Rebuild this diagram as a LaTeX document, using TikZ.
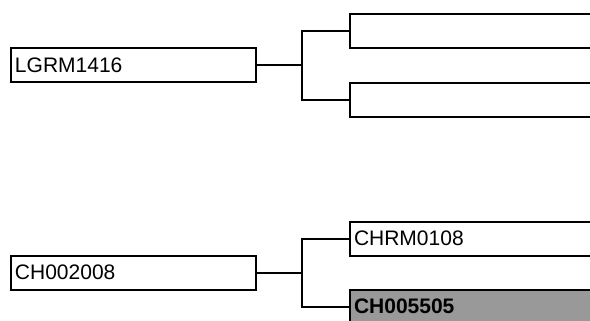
\documentclass[tikz,border=0pt]{standalone}
\usepackage{fontspec}
\setmainfont{Liberation Sans}
\definecolor{boxgray}{RGB}{153,153,153}
\begin{document}
\begin{tikzpicture}[x=1pt,y=-1pt,
  bx/.style={draw=black,line width=2pt,rectangle,inner xsep=4pt,inner ysep=0pt,
    text width=#1,align=left,minimum height=34pt,anchor=west,
    font=\fontsize{21}{24}\selectfont},
  bx/.default=237pt,
  link/.style={draw=black,line width=2pt}]
\useasboundingbox (0,0) rectangle (590,321);
\clip (0,0) rectangle (590,321);
\node[bx] (l1) at (10,65.5) {LGRM1416};
\node[bx=252pt] (r1) at (349,31) {};
\node[bx=252pt] (r2) at (349,100) {};
\node[bx] (l2) at (10,272.5) {CH002008};
\node[bx=252pt] (r3) at (349,238.5) {CHRM0108};
\node[bx=252pt,fill=boxgray,font=\fontsize{21}{24}\selectfont\bfseries] (r4) at (349,306.5) {CH005505};
\coordinate (j1) at (302,65.5);
\coordinate (j2) at (302,272.5);
\draw[link] (l1.east) -- (j1);
\draw[link] (j1) |- (r1.west);
\draw[link] (j1) |- (r2.west);
\draw[link] (l2.east) -- (j2);
\draw[link] (j2) |- (r3.west);
\draw[link] (j2) |- (r4.west);
\end{tikzpicture}
\end{document}
